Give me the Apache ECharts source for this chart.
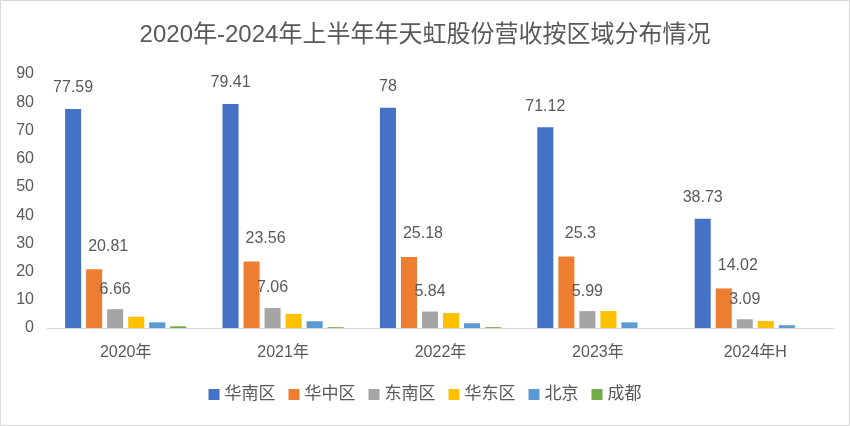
<!DOCTYPE html>
<html>
<head>
<meta charset="utf-8">
<script src="https://cdn.jsdelivr.net/npm/echarts@6/dist/echarts.min.js"></script>
<style>
html,body{margin:0;padding:0;background:#fff;}
#main{width:850px;height:426px;}
</style>
</head>
<body>
<div id="main"></div>
<script>
const categories = ['2020年', '2021年', '2022年', '2023年', '2024年H'];
const seriesNames = ['华南区', '华中区', '东南区', '华东区', '北京', '成都'];
const huanan = [77.59, 79.41, 78, 71.12, 38.73];
const huazhong = [20.81, 23.56, 25.18, 25.3, 14.02];
const dongnan = [6.66, 7.06, 5.84, 5.99, 3.09];
const huadong = [4.0, 5.0, 5.3, 6.0, 2.5];
const beijing = [2.0, 2.4, 1.7, 2.0, 1.0];
const chengdu = [0.6, 0.3, 0.3, 0, 0];
const yTicks = [0, 10, 20, 30, 40, 50, 60, 70, 80, 90];

const colors = ['#4472C4', '#ED7D31', '#A5A5A5', '#FFC000', '#5B9BD5', '#70AD47'];
const dataSets = [huanan, huazhong, dongnan, huadong, beijing, chengdu];
const labelOffsets = [[0, -8], [14, -10], [0, -7], null, null, null];
const font = '"Liberation Sans", "Noto Sans CJK SC", sans-serif';

const chart = echarts.init(document.getElementById('main'));
const series = dataSets.map((d, i) => ({
  name: seriesNames[i],
  type: 'bar',
  data: d,
  barGap: '31%',
  barCategoryGap: '23%',
  itemStyle: { color: colors[i] },
  label: labelOffsets[i] ? {
    show: true,
    position: 'top',
    distance: 5,
    offset: labelOffsets[i],
    color: '#595959',
    fontSize: 16,
    fontFamily: font
  } : { show: false }
}));

chart.setOption({
  animation: false,
  backgroundColor: '#fff',
  color: colors,
  title: {
    text: '2020年-2024年上半年年天虹股份营收按区域分布情况',
    left: 'center',
    top: 18,
    textStyle: { color: '#595959', fontSize: 24, fontWeight: 'normal', fontFamily: font }
  },
  graphic: [{
    type: 'rect',
    shape: { x: 0.5, y: 0.5, width: 849, height: 425 },
    style: { fill: 'none', stroke: '#d9d9d9', lineWidth: 1 },
    silent: true
  }],
  legend: {
    data: seriesNames,
    bottom: 18,
    left: 'center',
    icon: 'rect',
    itemWidth: 11,
    itemHeight: 11,
    itemGap: 13,
    textStyle: { color: '#595959', fontSize: 17, fontFamily: font }
  },
  grid: { left: 47, right: 16, top: 74, bottom: 98 },
  xAxis: {
    type: 'category',
    data: categories,
    axisLine: { lineStyle: { color: '#d9d9d9' } },
    axisTick: { show: false },
    axisLabel: { color: '#595959', fontSize: 16, margin: 17, fontFamily: font }
  },
  yAxis: {
    type: 'value',
    min: yTicks[0],
    max: yTicks[yTicks.length - 1],
    interval: 10,
    splitLine: { show: false },
    axisLine: { show: false },
    axisTick: { show: false },
    axisLabel: { color: '#595959', fontSize: 16, margin: 13, fontFamily: font }
  },
  series: series
});
</script>
</body>
</html>
